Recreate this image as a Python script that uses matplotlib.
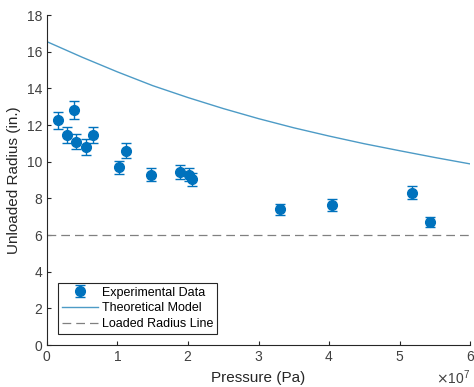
import matplotlib.pyplot as plt
from matplotlib.ticker import ScalarFormatter

plt.rcParams['font.family'] = ['Liberation Sans', 'DejaVu Sans']

# measured points
pressure = [0.16e7, 0.28e7, 0.39e7, 0.41e7, 0.55e7, 0.66e7, 1.02e7, 1.12e7,
            1.47e7, 1.89e7, 2.02e7, 2.06e7, 3.30e7, 4.04e7, 5.17e7, 5.43e7]
radius = [12.25, 11.45, 12.8, 11.1, 10.8, 11.45, 9.7, 10.6,
          9.3, 9.45, 9.3, 9.05, 7.4, 7.65, 8.3, 6.7]
radius_err = [0.47, 0.43, 0.49, 0.43, 0.43, 0.43, 0.36, 0.42,
              0.35, 0.38, 0.35, 0.35, 0.32, 0.34, 0.35, 0.28]

# theoretical model
model_p = [0, 0.5e7, 1e7, 1.5e7, 2e7, 2.5e7, 3e7, 3.5e7, 4e7, 4.5e7, 5e7, 5.5e7, 6e7]
model_r = [16.55, 15.7, 14.9, 14.15, 13.5, 12.9, 12.35, 11.85, 11.4, 10.98, 10.6, 10.23, 9.88]

loaded_radius = 6

fig = plt.figure(figsize=(4.74, 3.87), dpi=100)
ax = fig.add_axes([0.099, 0.1085, 0.893, 0.8525])

eb = ax.errorbar(pressure, radius, yerr=radius_err, fmt='o', color='#0072BD',
                 markersize=7, capsize=3.5, elinewidth=1, capthick=1)
ln, = ax.plot(model_p, model_r, color='#4d9bc6', lw=1)
hl = ax.axhline(loaded_radius, color='#808080', lw=0.9, ls=(0, (7, 4)))

ax.set_xlim(0, 6e7)
ax.set_ylim(0, 18)
ax.set_xticks([i * 1e7 for i in range(7)])
ax.set_yticks(range(0, 19, 2))

fmt = ScalarFormatter(useMathText=True)
fmt.set_powerlimits((0, 0))
ax.xaxis.set_major_formatter(fmt)

for s in ['top', 'right']:
    ax.spines[s].set_visible(False)
for s in ['left', 'bottom']:
    ax.spines[s].set_color('#262626')
    ax.spines[s].set_linewidth(0.8)
ax.tick_params(direction='in', length=3, width=0.8, colors='#262626',
               labelsize=10, labelcolor='#404040')
ax.xaxis.get_offset_text().set_color('#404040')
ax.xaxis.get_offset_text().set_fontsize(10)

ax.set_xlabel('Pressure (Pa)', fontsize=11, color='#262626', labelpad=5)
ax.set_ylabel('Unloaded Radius (in.)', fontsize=11, color='#262626', labelpad=4)

leg = ax.legend([eb, ln, hl],
                ['Experimental Data', 'Theoretical Model', 'Loaded Radius Line'],
                loc='lower left', fontsize=9, fancybox=False, framealpha=1,
                edgecolor='#262626', borderaxespad=0.9, handlelength=2.9,
                labelspacing=0.3, borderpad=0.3, handletextpad=0.3)
leg.get_frame().set_linewidth(0.8)

fig.savefig('out.png', dpi=100)
